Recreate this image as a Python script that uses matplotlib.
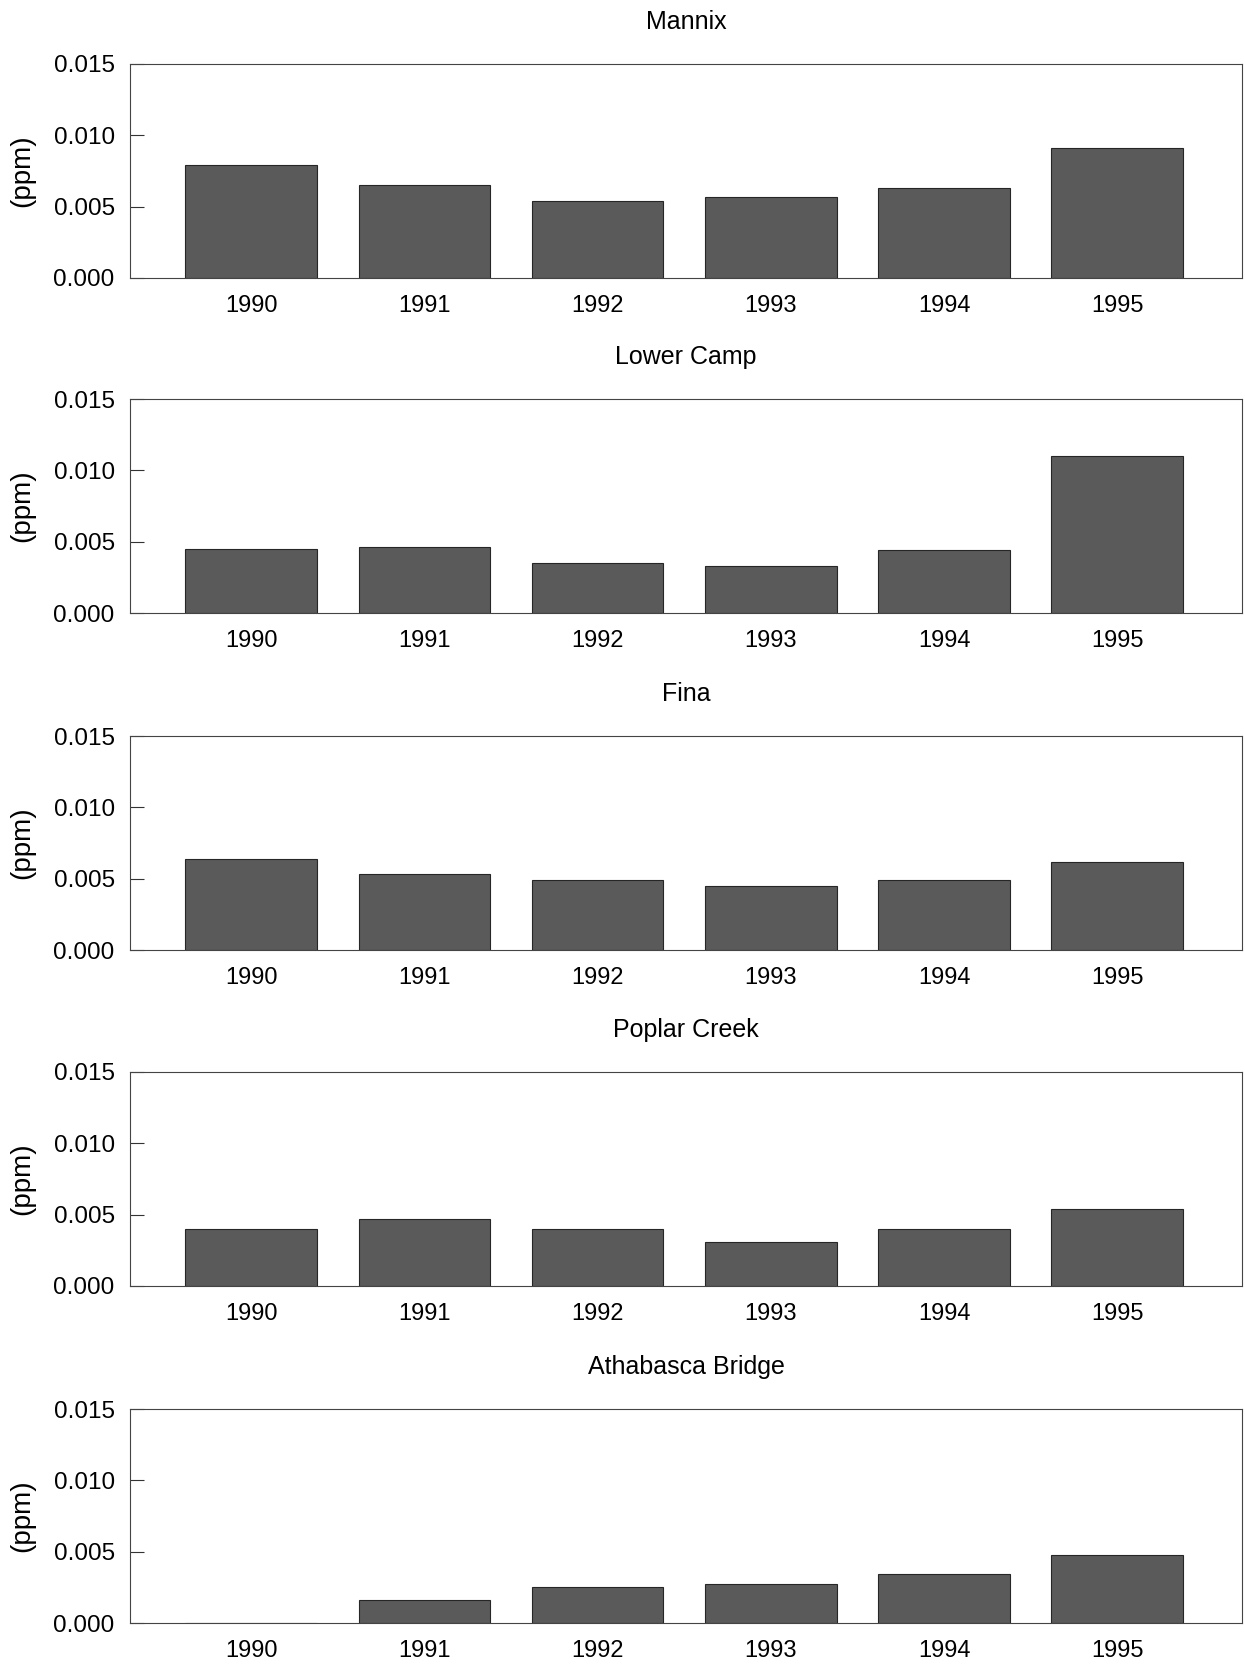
import numpy as np
import matplotlib.pyplot as plt

years = ['1990', '1991', '1992', '1993', '1994', '1995']
stations = ['Mannix', 'Lower Camp', 'Fina', 'Poplar Creek', 'Athabasca Bridge']

mannix = [0.0079, 0.0065, 0.0054, 0.0057, 0.0063, 0.0091]
lower_camp = [0.0045, 0.0046, 0.0035, 0.0033, 0.0044, 0.0110]
fina = [0.0064, 0.0053, 0.0049, 0.0045, 0.0049, 0.0062]
poplar_creek = [0.0040, 0.0047, 0.0040, 0.0031, 0.0040, 0.0054]
athabasca_bridge = [0.0, 0.0016, 0.0025, 0.0027, 0.0034, 0.0048]

series = [mannix, lower_camp, fina, poplar_creek, athabasca_bridge]
yticks = [0.0, 0.005, 0.010, 0.015]

plt.rcParams['font.family'] = ['Liberation Sans', 'DejaVu Sans']

W, H = 1245, 1666
fig = plt.figure(figsize=(W / 100, H / 100), dpi=100)

left, right = 130, 1242
tops = [64, 399, 736, 1072, 1409]
height = 214

x = np.arange(len(years))
for top, name, vals in zip(tops, stations, series):
    ax = fig.add_axes([left / W, 1 - (top + height) / H, (right - left) / W, height / H])
    ax.bar(x, vals, width=0.76, color='#5a5a5a', edgecolor='#262626', linewidth=0.8)
    ax.set_xlim(-0.7, 5.72)
    ax.set_ylim(0, 0.015)
    ax.set_xticks(x)
    ax.set_xticklabels(years)
    ax.set_yticks(yticks)
    ax.set_yticklabels([f'{v:.3f}' for v in yticks])
    ax.tick_params(axis='x', length=0, pad=12, labelsize=17)
    ax.tick_params(axis='y', direction='in', length=10, width=0.8, pad=11,
                   labelsize=17.5, color='#333333')
    for s in ax.spines.values():
        s.set_linewidth(0.8)
        s.set_color('#444444')
    ax.set_title(name, fontsize=18, pad=25)
    ax.set_ylabel('(ppm)', fontsize=20)
    ax.yaxis.set_label_coords(-0.085, 0.5)

fig.savefig('out.png', dpi=100)
